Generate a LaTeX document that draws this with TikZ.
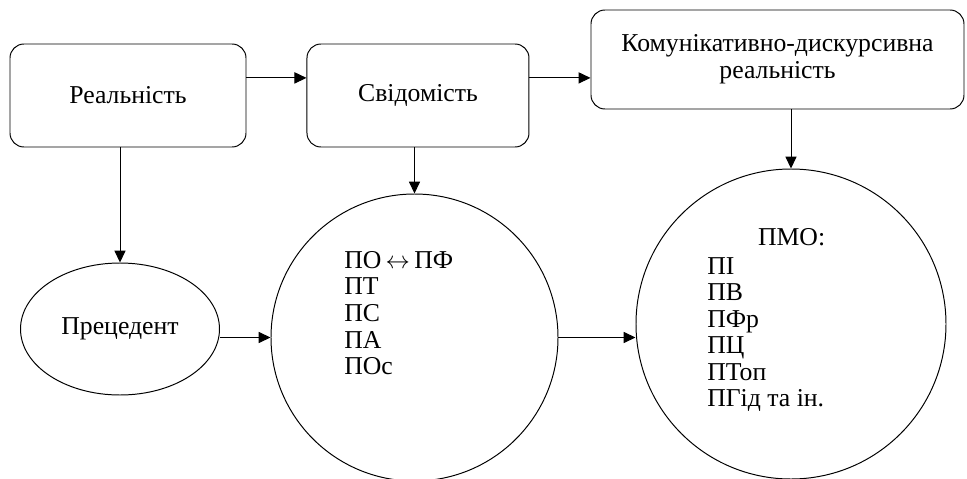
\documentclass[tikz,border=0pt]{standalone}
\usepackage{fontspec}
\setmainfont{Liberation Serif}
\usetikzlibrary{positioning,arrows.meta,shapes.geometric}

\begin{document}
\begin{tikzpicture}[
    every node/.style={font=\fontsize{18.3}{18.9}\selectfont},
    blk/.style={draw, line width=0.7pt, rounded corners=0.35cm, minimum height=2.575cm, align=center, inner sep=0pt},
    ell/.style={draw, line width=0.7pt, ellipse, minimum width=4.975cm, minimum height=3.3cm, inner sep=0pt},
    crc/.style={draw, line width=0.7pt, circle, inner sep=0pt},
    txt/.style={align=left, inner sep=0pt},
    arr/.style={-{Triangle[length=3mm, width=2.8mm]}, line width=0.7pt},
]
\useasboundingbox (0,0) rectangle (24.175,-11.975);

% Top row
\node[blk, minimum width=5.9cm] (real) at (3.2,-2.3875) {Реальність};
\node[blk, minimum width=5.55cm, right=1.5cm of real] (svid) {Свідомість};
\node[blk, minimum width=9.325cm, minimum height=2.475cm] (kdr) at (19.4375,-1.4875) {Комунікативно-дискурсивна\\реальність};

% Bottom row
\node[ell] (prec) at (3.0,-8.225) {Прецедент};
\node[crc, minimum size=7.175cm] (pf) at (10.3625,-8.4375) {};
\node[crc, minimum size=7.75cm] (pmo) at (19.775,-8.1) {};

% Circle contents
\node[txt, anchor=north west] (pflist) at (8.6,-6.275) {ПО\,$\leftrightarrow$\,ПФ\\ПТ\\ПС\\ПА\\ПОс};
\node[inner sep=0pt, anchor=north] (pmohead) at (19.79,-5.7) {ПМО:};
\node[txt, anchor=north west] (pmolist) at (17.675,-6.425) {ПІ\\ПВ\\ПФр\\ПЦ\\ПТоп\\ПГід та ін.};

% Arrows
\draw[arr] ([yshift=0.44cm]real.east) -- ([yshift=0.44cm]real.east -| svid.west);
\draw[arr] ([yshift=0.44cm]svid.east) -- ([yshift=0.44cm]svid.east -| kdr.west);
\draw[arr] (real.south -| prec.north) -- (prec.north);
\draw[arr] (svid.south -| pf.north) -- (pf.north);
\draw[arr] (kdr.south -| pmo.north) -- (pmo.north);
\draw[arr] (prec.east |- pf.west) -- (pf.west);
\draw[arr] (pf.east) -- (pf.east -| pmo.west);
\end{tikzpicture}
\end{document}
